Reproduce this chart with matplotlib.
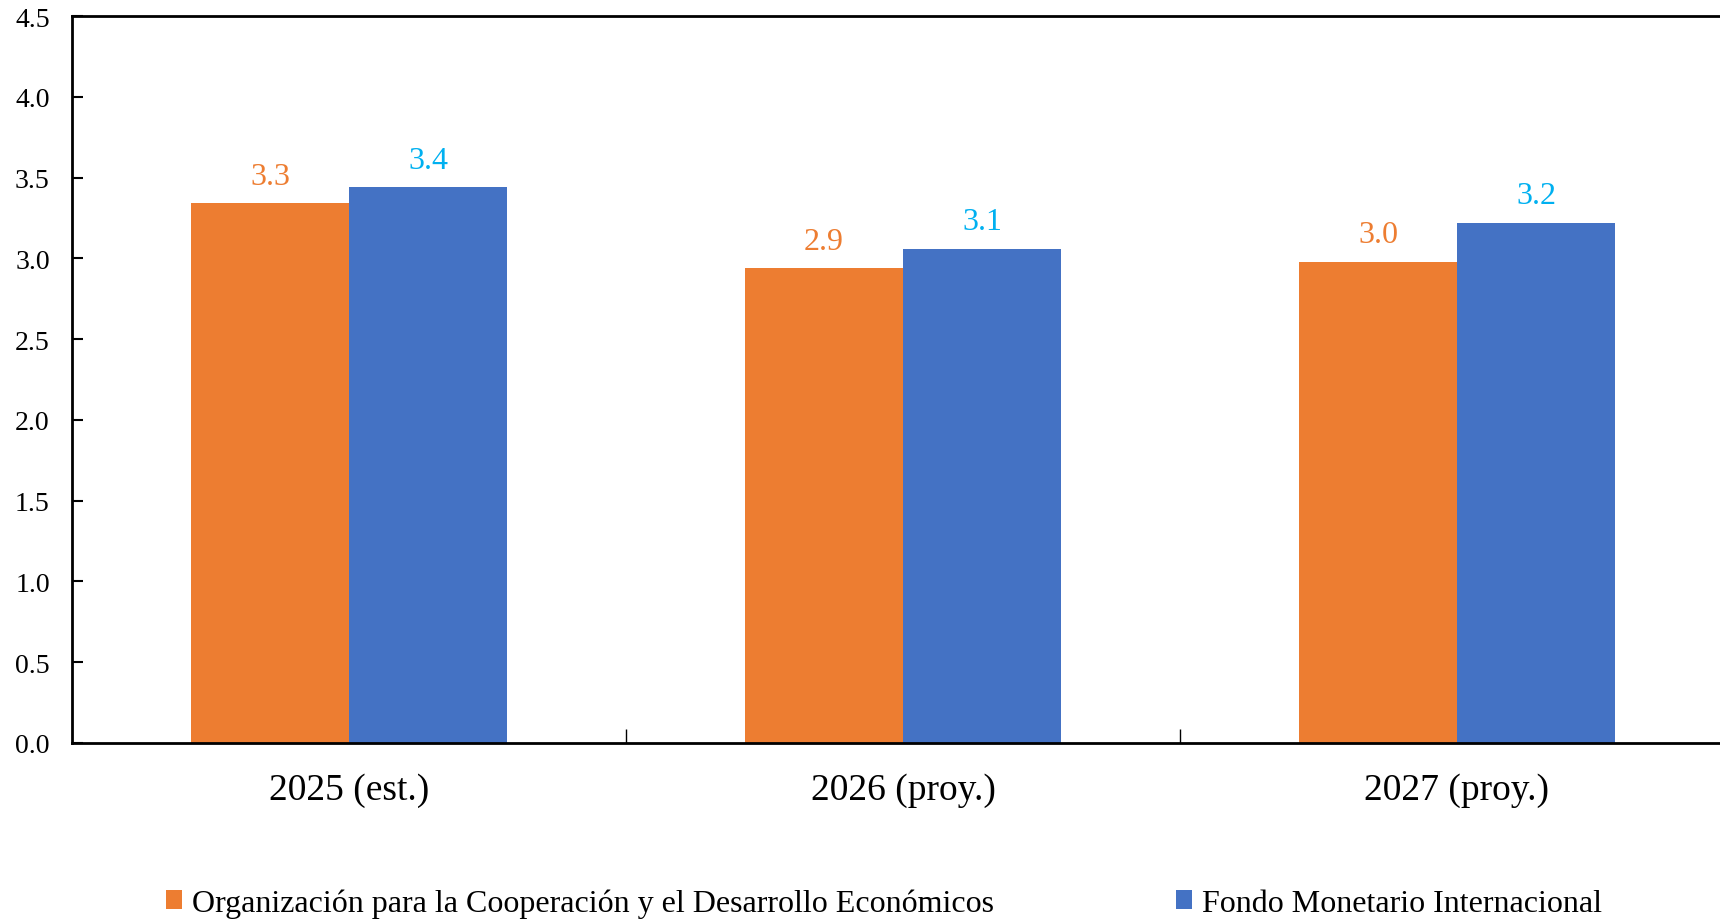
import numpy as np
import matplotlib.pyplot as plt

plt.rcParams['font.family'] = ['Liberation Serif', 'DejaVu Serif']

categories = ['2025 (est.)', '2026 (proy.)', '2027 (proy.)']
series_names = ['Organización para la Cooperación y el Desarrollo Económicos',
                'Fondo Monetario Internacional']
ocde = [3.34, 2.94, 2.98]
fmi = [3.44, 3.06, 3.22]

bar_colors = ['#ED7D31', '#4472C4']
label_colors = ['#ED7D31', '#00B0F0']

fig = plt.figure(figsize=(17.2, 9.2), dpi=100)
ax = fig.add_axes([72/1720, 1-744/920, 1662/1720, 727/920])

x = np.arange(len(categories))
w = 0.285
for i, (vals, name) in enumerate(zip([ocde, fmi], series_names)):
    pos = x + (i - 0.5) * w
    bars = ax.bar(pos, vals, width=w, color=bar_colors[i], label=name)
    for b, v in zip(bars, vals):
        ax.annotate(f'{v:.1f}', (b.get_x() + b.get_width()/2, v),
                    xytext=(0, 9), textcoords='offset points',
                    ha='center', va='bottom', fontsize=23, color=label_colors[i])

ax.set_xlim(-0.5, len(categories) - 0.5)
ax.set_ylim(0, 4.5)
ax.set_yticks(np.arange(0, 4.51, 0.5))
ax.set_yticklabels([f'{t:.1f}' for t in np.arange(0, 4.51, 0.5)])
ax.tick_params(axis='y', direction='in', length=8, width=1.5, labelsize=20, pad=16)

ax.set_xticks(x)
ax.set_xticklabels(categories, fontsize=27)
ax.set_xticks(x[:-1] + 0.5, minor=True)
ax.tick_params(axis='x', which='major', length=0, pad=21)
ax.tick_params(axis='x', which='minor', direction='in', length=10, width=1)

for s in ['left', 'bottom', 'top']:
    ax.spines[s].set_linewidth(2)
ax.spines['right'].set_visible(False)

fig.legend(loc='center', bbox_to_anchor=(0.514, 1-904/920), ncol=2, frameon=False,
           fontsize=23, handlelength=0.5, handleheight=0.5, handletextpad=0.3,
           columnspacing=5.7)

fig.savefig('out.png', dpi=100)
